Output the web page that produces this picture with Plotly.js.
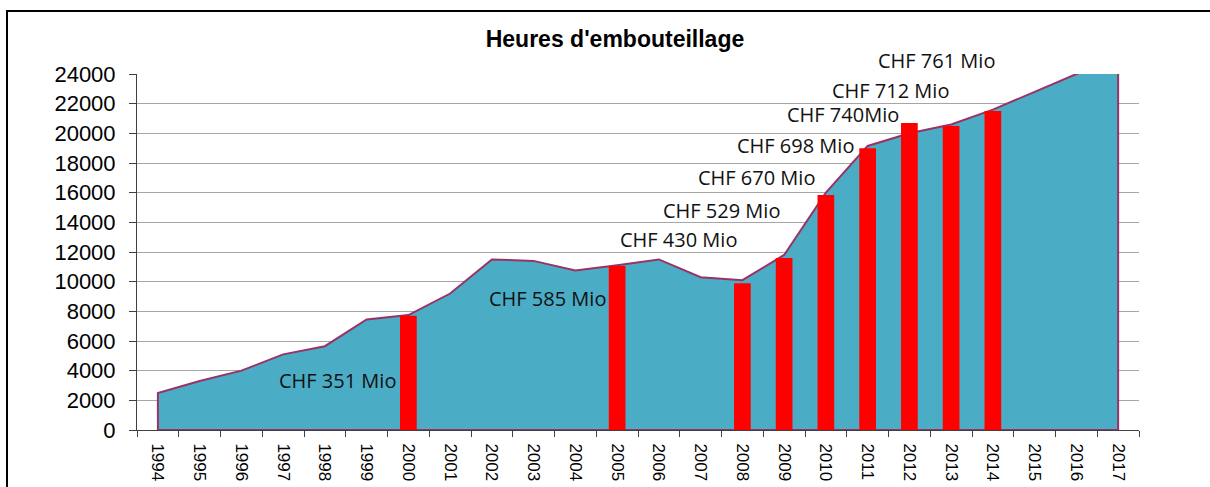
<!DOCTYPE html>
<html>
<head>
<meta charset="utf-8">
<script src="https://cdn.plot.ly/plotly-3.0.1.min.js"></script>
<style>
  html, body { margin: 0; padding: 0; background: #fff; }
  #wrap { position: relative; width: 1210px; height: 487px; overflow: hidden; }
  #chart { width: 1210px; height: 487px; }
  #frame { position: absolute; left: 6px; top: 10px; width: 1300px; height: 600px;
           border-top: 2px solid #000; border-left: 2px solid #000; pointer-events: none; }
</style>
</head>
<body>
<div id="wrap">
  <div id="chart"></div>
  <div id="frame"></div>
</div>
<script>
// Data
const years = ["1994","1995","1996","1997","1998","1999","2000","2001","2002","2003","2004","2005",
               "2006","2007","2008","2009","2010","2011","2012","2013","2014","2015","2016","2017"];
const hours = [2500, 3300, 4000, 5100, 5650, 7450, 7750, 9200, 11500, 11400, 10750, 11100,
               11500, 10300, 10100, 11800, 16000, 19150, 20000, 20600, 21600, 22800, 24000, 25000];
const barYears = ["2000","2005","2008","2009","2010","2011","2012","2013","2014"];
const barValues = [7700, 11050, 9900, 11600, 15850, 19000, 20700, 20500, 21500];
const labelTexts = ["CHF 761 Mio","CHF 712 Mio","CHF 740Mio","CHF 698 Mio","CHF 670 Mio",
                    "CHF 529 Mio","CHF 430 Mio","CHF 585 Mio","CHF 351 Mio"];
const labelX = [18.66, 17.54, 16.40, 15.27, 14.35, 13.51, 12.46, 9.33, 4.31];
const labelY = [24880, 22875, 21300, 19210, 17010, 14830, 12860, 8880, 3370];
const yMax = 24000;

// closed polygon outline built from the data
const polyX = [years[0]].concat(years, [years[years.length-1], years[0]]);
const polyY = [0].concat(hours, [0, 0]);

const area = {
  type: 'scatter', mode: 'lines', x: polyX, y: polyY,
  fill: 'toself', fillcolor: '#4BACC6',
  line: { color: '#993366', width: 2 },
  hoverinfo: 'skip', showlegend: false
};
const bars = {
  type: 'bar', x: barYears, y: barValues, width: 0.4,
  xaxis: 'x2', yaxis: 'y2',
  marker: { color: '#FF0000', line: { width: 0 } },
  hoverinfo: 'skip', showlegend: false
};

const annotations = labelTexts.map((t, i) => ({
  x: labelX[i], y: labelY[i] / yMax, xref: 'x', yref: 'paper', text: t, showarrow: false,
  xanchor: 'center', yanchor: 'middle',
  font: { family: 'Open Sans, sans-serif', size: 20, color: '#111' }
}));

const layout = {
  width: 1210, height: 487,
  margin: { l: 137, r: 71, t: 74, b: 57, pad: 0 },
  paper_bgcolor: 'rgba(0,0,0,0)', plot_bgcolor: 'rgba(0,0,0,0)',
  showlegend: false,
  title: {
    text: "<b>Heures d'embouteillage</b>",
    x: 615 / 1210, xref: 'container', xanchor: 'center',
    y: 1 - 39 / 487, yref: 'container', yanchor: 'middle',
    font: { family: 'Liberation Sans, Arial, sans-serif', size: 23, color: '#000' }
  },
  xaxis: {
    type: 'category', categoryorder: 'array', categoryarray: years,
    range: [-0.5, 23.5], fixedrange: true,
    showgrid: false, zeroline: false,
    showline: true, linecolor: '#404040', linewidth: 1,
    ticks: 'outside', tickson: 'boundaries', ticklen: 6, tickcolor: '#404040', tickwidth: 1,
    tickangle: 90, automargin: false, ticklabelstandoff: 9,
    tickfont: { family: 'Liberation Sans, Arial, sans-serif', size: 17, color: '#000' }
  },
  yaxis: {
    range: [0, yMax], dtick: 2000, tick0: 0, fixedrange: true,
    showgrid: true, gridcolor: '#A6A6A6', gridwidth: 1,
    zeroline: false,
    showline: true, linecolor: '#404040', linewidth: 1,
    ticks: 'outside', ticklen: 7, tickcolor: '#404040', tickwidth: 1,
    automargin: false, tickformat: 'd', ticklabelstandoff: 9,
    tickfont: { family: 'Liberation Sans, Arial, sans-serif', size: 22, color: '#000' }
  },
  xaxis2: {
    type: 'category', categoryorder: 'array', categoryarray: years,
    range: [-0.5, 23.5], overlaying: 'x', visible: false, fixedrange: true
  },
  yaxis2: {
    range: [0, yMax], overlaying: 'y', visible: false, fixedrange: true
  },
  annotations: annotations
};

Plotly.newPlot('chart', [area, bars], layout, { staticPlot: true, displayModeBar: false });
</script>
</body>
</html>
